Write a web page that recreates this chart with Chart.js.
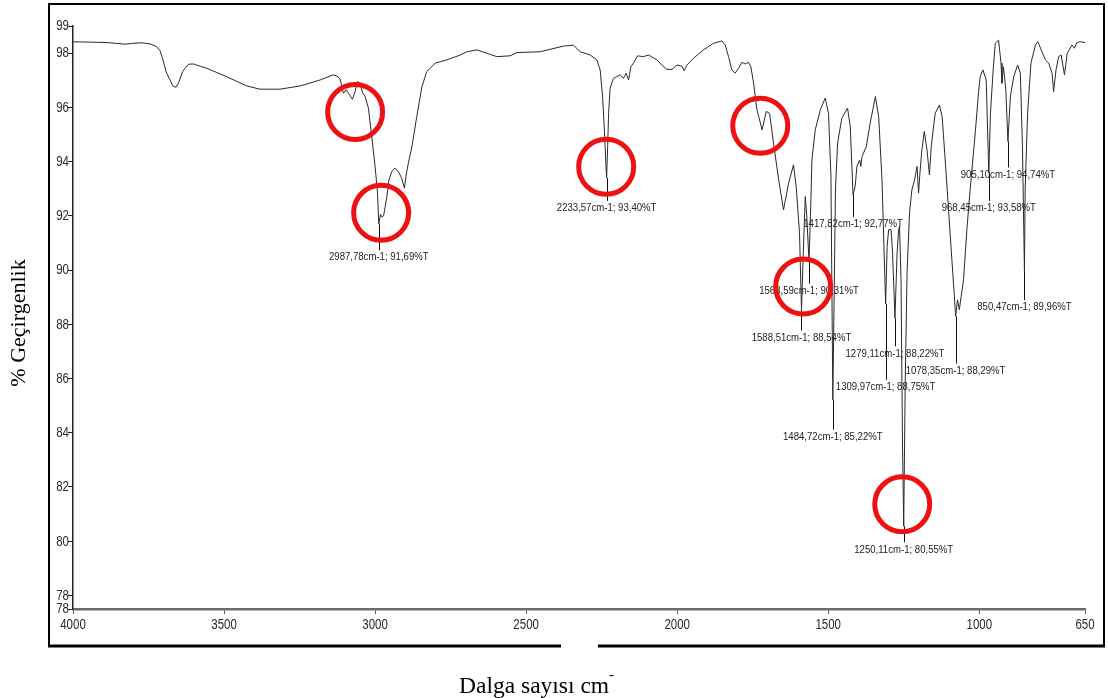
<!DOCTYPE html>
<html>
<head>
<meta charset="utf-8">
<title>IR</title>
<script src="https://cdn.jsdelivr.net/npm/chart.js@4.4.0/dist/chart.umd.min.js"></script>
<style>
  html, body { margin: 0; padding: 0; background: #fff; }
  #wrap { width: 1108px; height: 698px; }
</style>
</head>
<body>
<div id="wrap"><canvas id="irchart" width="1108" height="698"></canvas></div>
<script>
'use strict';

// spectrum trace, wave number (cm-1) and %T
var waveNumbers = [
  4000, 3888, 3828, 3801, 3772, 3745, 3723, 3712, 3702, 3692, 3679, 3670, 3659, 3651, 3637, 3618,
  3602, 3557, 3491, 3425, 3381, 3315, 3248, 3182, 3138, 3126, 3116, 3105, 3096, 3088, 3075, 3066,
  3059, 3050, 3041, 3033, 3022, 3011, 3000, 2992, 2982, 2977, 2972, 2967, 2961, 2954, 2945, 2934,
  2923, 2912, 2903, 2897, 2890, 2878, 2862, 2845, 2829, 2801, 2763, 2718, 2696, 2663, 2597, 2553,
  2531, 2454, 2376, 2343, 2321, 2288, 2266, 2255, 2247, 2241, 2236, 2230, 2227, 2222, 2211, 2200,
  2189, 2178, 2169, 2161, 2153, 2145, 2131, 2112, 2095, 2067, 2051, 2034, 2017, 2001, 1984, 1977,
  1968, 1946, 1913, 1880, 1852, 1841, 1830, 1819, 1808, 1797, 1786, 1775, 1764, 1756, 1747, 1736,
  1730, 1719, 1705, 1694, 1681, 1664, 1648, 1631, 1615, 1606, 1595, 1583, 1576, 1571, 1558, 1554,
  1543, 1526, 1510, 1499, 1491, 1476, 1469, 1455, 1436, 1427, 1411, 1405, 1396, 1392, 1388, 1374,
  1361, 1344, 1333, 1322, 1314, 1305, 1300, 1292, 1287, 1272, 1267, 1264, 1259, 1254, 1245, 1239,
  1231, 1223, 1214, 1206, 1201, 1197, 1190, 1182, 1173, 1165, 1159, 1146, 1132, 1123, 1112, 1101,
  1090, 1083, 1072, 1066, 1060, 1052, 1041, 1030, 1013, 1002, 997, 988, 977, 963, 954, 947,
  936, 928, 925, 920, 912, 897, 886, 873, 864, 857, 848, 840, 829, 814, 806, 795,
  781, 770, 759, 754, 746, 737, 729, 718, 709, 693, 685, 677, 666, 650
];
var transmittance = [
  98.42, 98.39, 98.33, 98.36, 98.38, 98.34, 98.24, 98.09, 97.75, 97.32, 97.01, 96.79, 96.74, 96.89, 97.32, 97.59,
  97.60, 97.44, 97.13, 96.79, 96.67, 96.67, 96.79, 97.01, 97.20, 97.15, 97.05, 96.52, 96.65, 96.52, 96.30, 96.58,
  96.95, 96.89, 96.52, 96.40, 95.97, 94.92, 93.82, 92.84, 92.05, 91.95, 92.00, 92.30, 92.71, 93.33, 93.63, 93.76,
  93.63, 93.39, 93.02, 93.51, 93.94, 94.55, 95.66, 96.76, 97.32, 97.63, 97.75, 97.93, 98.05, 98.12, 97.87, 97.90,
  98.02, 98.05, 98.26, 98.29, 98.05, 97.93, 97.75, 97.38, 96.40, 95.17, 93.90, 94.60, 95.78, 96.71, 97.07, 97.13,
  97.20, 97.07, 97.26, 97.01, 97.50, 97.63, 97.90, 97.87, 97.93, 97.75, 97.56, 97.40, 97.40, 97.56, 97.52, 97.35,
  97.56, 97.81, 98.12, 98.36, 98.45, 98.30, 97.87, 97.38, 97.26, 97.44, 97.66, 97.60, 97.66, 97.50, 96.89, 95.91,
  95.66, 95.17, 95.85, 95.78, 94.68, 93.33, 92.22, 93.21, 93.88, 93.08, 91.36, 90.50, 92.71, 92.00, 92.30, 94.06,
  95.17, 95.91, 96.34, 95.78, 93.45, 93.00, 94.68, 95.60, 95.97, 95.29, 93.08, 93.82, 94.06, 93.82, 94.19, 94.55,
  95.42, 96.40, 95.66, 93.33, 90.26, 90.87, 91.49, 91.49, 90.63, 90.63, 91.49, 91.61, 89.65, 83.50, 85.96, 89.90,
  92.10, 92.96, 93.33, 93.82, 92.84, 93.50, 94.43, 95.11, 94.43, 93.51, 94.55, 95.78, 96.09, 95.66, 93.94, 92.10,
  90.26, 89.15, 88.90, 88.54, 89.03, 89.65, 91.49, 93.00, 95.10, 96.60, 97.13, 97.38, 97.01, 95.78, 97.38, 98.36,
  98.48, 97.63, 96.89, 97.50, 96.64, 96.40, 97.13, 97.56, 97.26, 94.55, 93.00, 95.78, 97.63, 98.30, 98.42, 98.12,
  97.75, 97.63, 97.26, 96.58, 97.38, 97.87, 97.93, 97.20, 97.99, 98.30, 98.18, 98.39, 98.42, 98.39
];

// picked peaks (these are also points of the trace)
var peakWn = [2987.78, 2233.57, 1588.51, 1563.59, 1484.72, 1417.82, 1309.97, 1279.11, 1250.11, 1078.35, 968.45, 905.10, 850.47];
var peakT = [91.69, 93.40, 88.54, 90.31, 85.22, 92.77, 88.75, 88.22, 80.55, 88.29, 93.58, 94.74, 89.96];

// marked bands (ring centres)
var ringWn = [3066, 2980, 2235, 1725, 1583, 1255];
var ringT = [95.83, 92.11, 93.81, 95.32, 89.39, 81.36];

var xTicks = [4000, 3500, 3000, 2500, 2000, 1500, 1000, 650];
var yTicks = [77.5, 78, 80, 82, 84, 86, 88, 90, 92, 94, 96, 98, 99];

// distance (px) from peak to its label
var labelDrop = [33, 30, 28, 29, 37, 29, 83, 35, 23, 54, 35, 33, 36];

var sans = "'Liberation Sans', Arial, sans-serif";
var serif = "'Liberation Serif', 'Times New Roman', serif";
var squeeze = 0.82; // Arial Narrow look

function buildTrace() {
  var pts = [];
  for (var i = 0; i < waveNumbers.length; i++) {
    pts.push({x: waveNumbers[i], y: transmittance[i]});
  }
  for (var j = 0; j < peakWn.length; j++) {
    pts.push({x: peakWn[j], y: peakT[j]});
  }
  pts.sort(function(a, b) { return b.x - a.x; });
  return pts;
}

function comma(v) {
  return v.toFixed(2).replace('.', ',');
}

// condensed text: squeeze horizontally around the anchor
function narrowText(ctx, text, x, y) {
  ctx.save();
  ctx.translate(x, y);
  ctx.scale(squeeze, 1);
  ctx.fillText(text, 0, 0);
  ctx.restore();
}

// tick numbers drawn here so they can be condensed
var tickText = {
  id: 'tickText',
  afterDraw: function(chart) {
    var ctx = chart.ctx;
    var xs = chart.scales.x;
    var ys = chart.scales.y;
    ctx.save();
    ctx.fillStyle = '#2b2b2b';
    ctx.font = '14px ' + sans;
    ctx.textBaseline = 'middle';
    ctx.textAlign = 'right';
    for (var i = 0; i < yTicks.length; i++) {
      narrowText(ctx, String(Math.round(yTicks[i])), ys.left + ys.width - 4, ys.getPixelForValue(yTicks[i]) + 0.5);
    }
    ctx.textAlign = 'center';
    for (var j = 0; j < xTicks.length; j++) {
      narrowText(ctx, String(xTicks[j]), xs.getPixelForValue(xTicks[j]), xs.top + 16);
    }
    ctx.restore();
  }
};

// peak labels with their drop lines
var peakLabels = {
  id: 'peakLabels',
  afterDatasetsDraw: function(chart) {
    var ctx = chart.ctx;
    var xs = chart.scales.x;
    var ys = chart.scales.y;
    ctx.save();
    ctx.font = '11.7px ' + sans;
    ctx.fillStyle = '#222';
    ctx.strokeStyle = '#111';
    ctx.lineWidth = 1;
    ctx.textAlign = 'center';
    ctx.textBaseline = 'middle';
    for (var i = 0; i < peakWn.length; i++) {
      var px = xs.getPixelForValue(peakWn[i]);
      var py = ys.getPixelForValue(peakT[i]);
      var d = labelDrop[i];
      ctx.beginPath();
      ctx.moveTo(Math.round(px) + 0.5, py);
      ctx.lineTo(Math.round(px) + 0.5, py + d - 7);
      ctx.stroke();
      narrowText(ctx, comma(peakWn[i]) + 'cm-1; ' + comma(peakT[i]) + '%T', px, py + d);
    }
    ctx.restore();
  }
};

// red rings, outer frame and axis titles
var decorations = {
  id: 'decorations',
  beforeDraw: function(chart) {
    var ctx = chart.ctx;
    ctx.save();
    ctx.fillStyle = '#fff';
    ctx.fillRect(0, 0, chart.width, chart.height);
    ctx.restore();
  },
  afterDraw: function(chart) {
    var ctx = chart.ctx;
    var xs = chart.scales.x;
    var ys = chart.scales.y;
    ctx.save();

    ctx.strokeStyle = '#ee1111';
    ctx.lineWidth = 5;
    for (var i = 0; i < ringWn.length; i++) {
      ctx.beginPath();
      ctx.arc(xs.getPixelForValue(ringWn[i]), ys.getPixelForValue(ringT[i]), 27.5, 0, Math.PI * 2);
      ctx.stroke();
    }

    // frame, the bottom edge has a short break
    ctx.strokeStyle = '#000';
    ctx.lineWidth = 2;
    ctx.beginPath();
    ctx.moveTo(49, 646);
    ctx.lineTo(49, 4);
    ctx.lineTo(1104, 4);
    ctx.lineTo(1104, 646);
    ctx.stroke();
    ctx.lineWidth = 3;
    ctx.beginPath();
    ctx.moveTo(48, 646);
    ctx.lineTo(561, 646);
    ctx.moveTo(598, 646);
    ctx.lineTo(1105, 646);
    ctx.stroke();

    ctx.fillStyle = '#000';
    ctx.font = '22px ' + serif;
    ctx.textAlign = 'center';
    ctx.textBaseline = 'middle';
    ctx.save();
    ctx.translate(19, 323);
    ctx.rotate(-Math.PI / 2);
    ctx.fillText('% Geçirgenlik', 0, 0);
    ctx.restore();

    ctx.textAlign = 'left';
    ctx.textBaseline = 'alphabetic';
    ctx.font = '23.5px ' + serif;
    var title = 'Dalga sayısı cm';
    ctx.fillText(title, 459, 693);
    var w = ctx.measureText(title).width;
    ctx.font = '15px ' + serif;
    ctx.fillText('-', 459 + w, 679);
    ctx.restore();
  }
};

var ctx = document.getElementById('irchart').getContext('2d');

var irChart = new Chart(ctx, {
  type: 'line',
  data: {
    datasets: [{
      data: buildTrace(),
      borderColor: '#2a2a2a',
      borderWidth: 1,
      pointRadius: 0,
      tension: 0,
      fill: false
    }]
  },
  options: {
    responsive: false,
    animation: false,
    devicePixelRatio: 1,
    layout: { padding: { left: 0, top: 26, right: 23, bottom: 0 } },
    plugins: {
      legend: { display: false },
      tooltip: { enabled: false }
    },
    scales: {
      x: {
        type: 'linear',
        reverse: true,
        min: 650,
        max: 4000,
        afterBuildTicks: function(scale) {
          scale.ticks = xTicks.map(function(v) { return {value: v}; });
        },
        afterFit: function(scale) { scale.height = 89; },
        grid: { display: true, drawOnChartArea: false, drawTicks: true, tickLength: 5, color: '#555', lineWidth: 1 },
        border: { display: true, color: '#6b6b6b', width: 2.5 },
        ticks: { display: false, autoSkip: false }
      },
      y: {
        type: 'linear',
        min: 77.5,
        max: 99,
        afterBuildTicks: function(scale) {
          scale.ticks = yTicks.map(function(v) { return {value: v}; });
        },
        afterFit: function(scale) { scale.width = 73; },
        grid: { display: true, drawOnChartArea: false, drawTicks: true, tickLength: 5, color: '#222', lineWidth: 1 },
        border: { display: true, color: '#222', width: 1.5 },
        ticks: { display: false, autoSkip: false }
      }
    }
  },
  plugins: [peakLabels, tickText, decorations]
});
</script>
</body>
</html>
